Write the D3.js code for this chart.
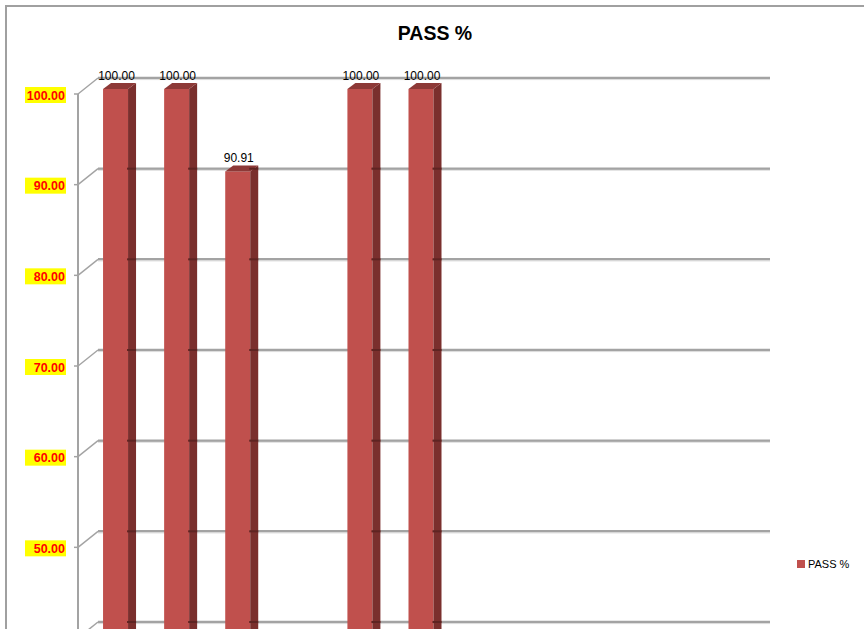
<!DOCTYPE html>
<html>
<head>
<meta charset="utf-8">
<script src="https://cdn.jsdelivr.net/npm/d3@7"></script>
<style>
  body { margin: 0; background: #fff; }
  svg { display: block; }
</style>
</head>
<body>
<svg id="chart" width="864" height="629"></svg>
<script>
// data
const categories = ["1", "2", "3", "4", "5", "6", "7", "8", "9", "10", "11"];
const passPct = [100, 100, 90.91, null, 100, 100, null, null, null, null, null];
const yTicks = [40, 50, 60, 70, 80, 90, 100];
const seriesName = "PASS %";

const svg = d3.select('#chart');
const W = 864, H = 629;

// 3d offsets (back wall -> front plane)
const depthX = -20, depthY = 16;
const barFront = { dx: -13, dy: 11 };
const barBack = { dx: -5, dy: 5 };

const x = d3.scaleBand().domain(categories).range([98, 770]);
const y = d3.scaleLinear().domain([40, 100]).range([622, 78]);

// outer chart border
svg.append('path')
  .attr('d', `M6,${H} L6,6 L${W},6`)
  .attr('fill', 'none')
  .attr('stroke', '#a0a0a0')
  .attr('stroke-width', 2);

// back wall gridlines
const grid = svg.append('g');
grid.selectAll('line.grid')
  .data(yTicks)
  .join('line')
  .attr('class', 'grid')
  .attr('x1', 98).attr('x2', 770)
  .attr('y1', d => y(d)).attr('y2', d => y(d))
  .attr('stroke', '#a3a3a3')
  .attr('stroke-width', 2.5);
grid.selectAll('line.gridhi')
  .data(yTicks)
  .join('line')
  .attr('class', 'gridhi')
  .attr('x1', 98).attr('x2', 770)
  .attr('y1', d => y(d) + 1.6).attr('y2', d => y(d) + 1.6)
  .attr('stroke', '#dcdcdc')
  .attr('stroke-width', 1);

// side wall diagonals from front axis to back wall
grid.selectAll('line.diag')
  .data(yTicks)
  .join('line')
  .attr('class', 'diag')
  .attr('x1', 98 + depthX).attr('y1', d => y(d) + depthY)
  .attr('x2', 98).attr('y2', d => y(d))
  .attr('stroke', '#a3a3a3')
  .attr('stroke-width', 1.5);

// front value axis
svg.append('line')
  .attr('x1', 98 + depthX).attr('x2', 98 + depthX)
  .attr('y1', y(100) + depthY).attr('y2', H)
  .attr('stroke', '#a3a3a3')
  .attr('stroke-width', 2);
svg.selectAll('line.tick')
  .data(yTicks)
  .join('line')
  .attr('class', 'tick')
  .attr('x1', 98 + depthX - 4).attr('x2', 98 + depthX)
  .attr('y1', d => y(d) + depthY).attr('y2', d => y(d) + depthY)
  .attr('stroke', '#a3a3a3')
  .attr('stroke-width', 1.5);

// tick labels with yellow highlight (the 40 label falls below the frame)
const tl = svg.selectAll('g.tlabel')
  .data(yTicks.filter(d => y(d) + depthY + 9 < H))
  .join('g')
  .attr('class', 'tlabel')
  .attr('transform', d => `translate(66,${y(d) + depthY + 1})`);
tl.append('rect')
  .attr('x', -41).attr('y', -8)
  .attr('width', 41).attr('height', 16)
  .attr('fill', '#ffff00');
tl.append('text')
  .attr('x', -1)
  .attr('dy', '0.36em')
  .attr('text-anchor', 'end')
  .attr('font-family', 'Liberation Sans, Arial, sans-serif')
  .attr('font-weight', 'bold')
  .attr('font-size', '12.5px')
  .attr('fill', '#ff0000')
  .text(d => d3.format('.2f')(d));

// bars
const bw = 25;
const bars = categories.map((c, i) => ({ c, v: passPct[i] })).filter(d => d.v != null);
const cx = d => x(d.c) + x.bandwidth() / 2;

const barG = svg.selectAll('g.bar')
  .data(bars)
  .join('g')
  .attr('class', 'bar');

// front face
barG.append('rect')
  .attr('x', d => cx(d) + barFront.dx - bw / 2)
  .attr('y', d => y(d.v) + barFront.dy)
  .attr('width', bw)
  .attr('height', d => H - (y(d.v) + barFront.dy) + 5)
  .attr('fill', '#c0504d');

// side face
const ox = barBack.dx - barFront.dx, oy = barBack.dy - barFront.dy;
barG.append('path')
  .attr('d', d => {
    const x0 = cx(d) + barFront.dx + bw / 2;
    const y0 = y(d.v) + barFront.dy;
    return `M${x0},${y0} L${x0 + ox},${y0 + oy} L${x0 + ox},${H + 5} L${x0},${H + 5} Z`;
  })
  .attr('fill', '#7a2f2d');

// top face
barG.append('path')
  .attr('d', d => {
    const x0 = cx(d) + barFront.dx - bw / 2;
    const y0 = y(d.v) + barFront.dy;
    return `M${x0},${y0} L${x0 + bw},${y0} L${x0 + bw + ox},${y0 + oy} L${x0 + ox},${y0 + oy} Z`;
  })
  .attr('fill', '#8d3937');

// gridline marks showing on the side faces
barG.each(function(d) {
  const g = d3.select(this);
  const x0 = cx(d) + barFront.dx + bw / 2;
  yTicks.filter(t => t < d.v).forEach(t => {
    g.append('line')
      .attr('x1', x0 - 1).attr('x2', x0 + ox)
      .attr('y1', y(t)).attr('y2', y(t))
      .attr('stroke', '#5e2422')
      .attr('stroke-width', 2);
  });
});

// value labels
svg.selectAll('text.vlabel')
  .data(bars)
  .join('text')
  .attr('class', 'vlabel')
  .attr('x', d => cx(d) + barFront.dx + 1)
  .attr('y', d => y(d.v) + barBack.dy - 3)
  .attr('text-anchor', 'middle')
  .attr('font-family', 'Liberation Sans, Arial, sans-serif')
  .attr('font-size', '12px')
  .attr('fill', '#000')
  .text(d => d3.format('.2f')(d.v));

// title
svg.append('text')
  .attr('x', 435)
  .attr('y', 40)
  .attr('text-anchor', 'middle')
  .attr('font-family', 'Liberation Sans, Arial, sans-serif')
  .attr('font-weight', 'bold')
  .attr('font-size', '19.5px')
  .attr('fill', '#000')
  .text(seriesName);

// legend
const leg = svg.append('g').attr('transform', 'translate(797,560)');
leg.append('rect')
  .attr('width', 8).attr('height', 8)
  .attr('fill', '#c0504d');
leg.append('text')
  .attr('x', 11)
  .attr('y', 8)
  .attr('font-family', 'Liberation Sans, Arial, sans-serif')
  .attr('font-size', '11px')
  .attr('fill', '#000')
  .text(seriesName);
</script>
</body>
</html>
